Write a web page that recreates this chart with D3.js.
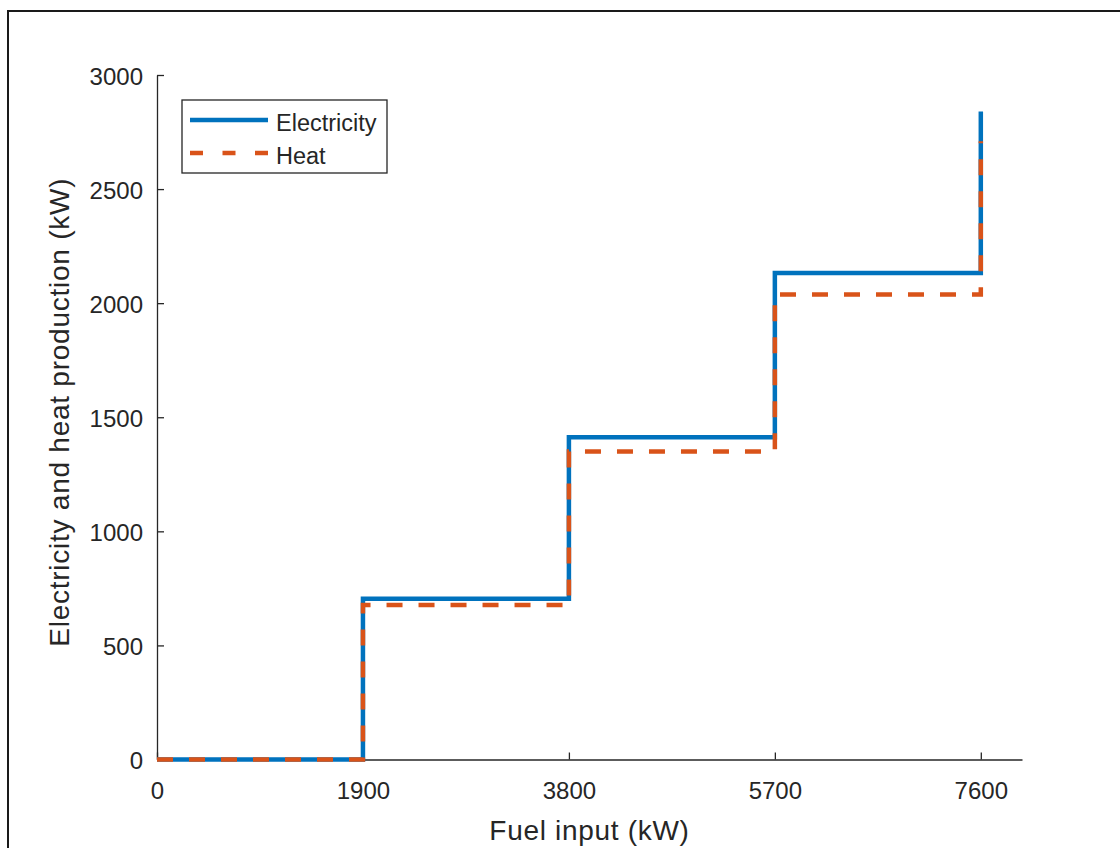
<!DOCTYPE html>
<html>
<head>
<meta charset="utf-8">
<script src="https://cdn.jsdelivr.net/npm/d3@7"></script>
<style>
  body { margin: 0; background: #fff; }
  svg { display: block; font-family: "Liberation Sans", Arial, Helvetica, sans-serif; }
  .axis path, .axis line { stroke: #262626; stroke-width: 1.3; }
  .axis text { fill: #262626; font-size: 24px; font-family: "Liberation Sans", Arial, sans-serif; }
</style>
</head>
<body>
<script>
'use strict'
// step points (x repeated at each jump)
var fuelInput   = [0, 1900, 1900, 3800, 3800, 5700, 5700, 7600, 7600];
var electricity = [0, 0, 704, 704, 1412, 1412, 2132, 2132, 2840];
var heat        = [0, 0, 677, 677, 1350, 1350, 2038, 2038, 2710];

var xTicks = [0, 1900, 3800, 5700, 7600];
var yTicks = [0, 500, 1000, 1500, 2000, 2500, 3000];
var seriesNames = ["Electricity", "Heat"];

var W = 1120, H = 848;
var margin = {top: 75, left: 157, right: 98, bottom: 88};

var svg = d3.select("body").append("svg")
            .attr("width", W)
            .attr("height", H);

svg.append("rect").attr("width", W).attr("height", H).attr("fill", "#fff");

// figure frame (cut at right/bottom in the original)
svg.append("rect")
   .attr("x", 8).attr("y", 11)
   .attr("width", W + 10).attr("height", H + 10)
   .attr("fill", "none")
   .attr("stroke", "#1a1a1a")
   .attr("stroke-width", 2);

var x = d3.scaleLinear()
          .domain([0, 7980])
          .range([margin.left, W - margin.right]);
var y = d3.scaleLinear()
          .domain([0, 3000])
          .range([H - margin.bottom - 0.5, margin.top]);

var xAxis = svg.append("g")
   .attr("class", "axis")
   .attr("transform", "translate(0," + y(0) + ")")
   .call(d3.axisBottom(x).tickValues(xTicks).tickSizeInner(-7).tickSizeOuter(0).tickPadding(22).tickFormat(d3.format("d")));

var yAxis = svg.append("g")
   .attr("class", "axis")
   .attr("transform", "translate(" + x(0) + ",0)")
   .call(d3.axisLeft(y).tickValues(yTicks).tickSizeInner(-7).tickSizeOuter(0).tickPadding(14).tickFormat(d3.format("d")));
yAxis.selectAll("text").attr("dy", "0.38em");

// axis titles
svg.append("text")
   .attr("x", (x.range()[0] + x.range()[1]) / 2)
   .attr("y", 840)
   .attr("text-anchor", "middle")
   .attr("fill", "#262626")
   .style("font-size", "28px")
   .style("letter-spacing", "0.7px")
   .text("Fuel input (kW)");

svg.append("text")
   .attr("transform", "translate(69," + ((y.range()[0] + y.range()[1]) / 2 - 5) + ") rotate(-90)")
   .attr("text-anchor", "middle")
   .attr("fill", "#262626")
   .style("font-size", "28px")
   .style("letter-spacing", "0.75px")
   .text("Electricity and heat production (kW)");

var line = d3.line()
             .x(function(d){ return x(d[0]); })
             .y(function(d){ return y(d[1]); });

var elecPts = fuelInput.map(function(v, i){ return [v, electricity[i]]; });
var heatPts = fuelInput.map(function(v, i){ return [v, heat[i]]; });

svg.append("path")
   .datum(elecPts)
   .attr("d", line)
   .attr("fill", "none")
   .attr("stroke", "#0072BD")
   .attr("stroke-width", 4.5);

svg.append("path")
   .datum(heatPts)
   .attr("d", line)
   .attr("fill", "none")
   .attr("stroke", "#D95319")
   .attr("stroke-width", 4.5)
   .attr("stroke-dasharray", "16,16");

// legend
var legend = svg.append("g");
legend.append("rect")
      .attr("x", 182).attr("y", 100)
      .attr("width", 205).attr("height", 73)
      .attr("fill", "#fff")
      .attr("stroke", "#262626")
      .attr("stroke-width", 1.3);

var legStyles = [
  {color: "#0072BD", dash: null},
  {color: "#D95319", dash: "13,19.5"}
];
seriesNames.forEach(function(name, i){
  var ly = 120 + i * 33;
  legend.append("line")
        .attr("x1", 190).attr("x2", 268)
        .attr("y1", ly).attr("y2", ly)
        .attr("stroke", legStyles[i].color)
        .attr("stroke-width", 4.5)
        .attr("stroke-dasharray", legStyles[i].dash);
  legend.append("text")
        .attr("x", 276).attr("y", ly + 11)
        .attr("fill", "#262626")
        .style("font-size", "23.5px")
        .text(name);
});
</script>
</body>
</html>
